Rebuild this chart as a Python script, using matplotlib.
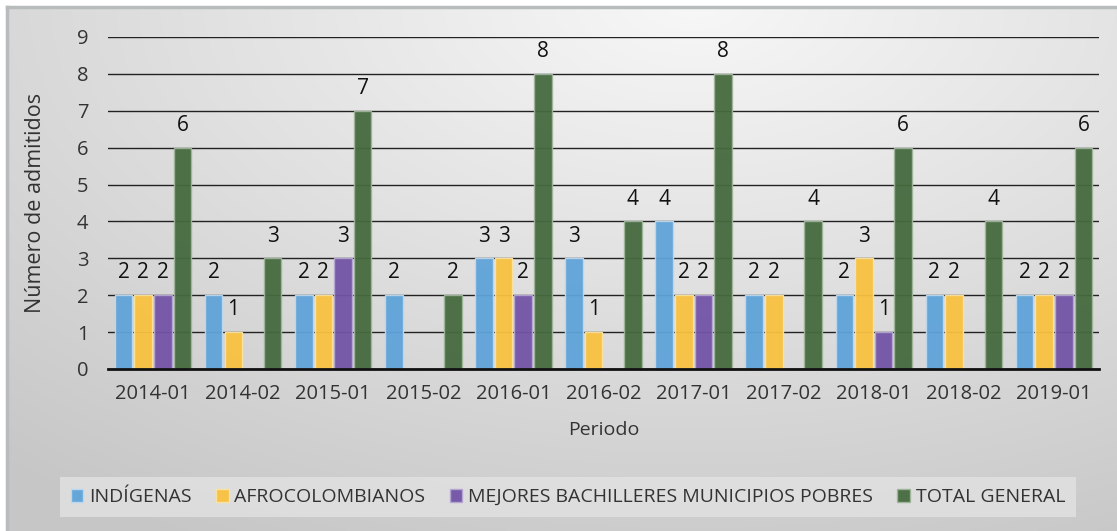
import numpy as np
import matplotlib

matplotlib.use("Agg")
import matplotlib.pyplot as plt
from matplotlib.patches import Rectangle

plt.rcParams["font.family"] = ["Open Sans", "DejaVu Sans"]

periods = ["2014-01", "2014-02", "2015-01", "2015-02", "2016-01", "2016-02",
           "2017-01", "2017-02", "2018-01", "2018-02", "2019-01"]
indigenas = [2, 2, 2, 2, 3, 3, 4, 2, 2, 2, 2]
afro = [2, 1, 2, 0, 3, 1, 2, 2, 3, 2, 2]
mejores = [2, 0, 3, 0, 2, 0, 2, 0, 1, 0, 2]
total = [6, 3, 7, 2, 8, 4, 8, 4, 6, 4, 6]

series_names = ["INDÍGENAS", "AFROCOLOMBIANOS", "MEJORES BACHILLERES MUNICIPIOS POBRES", "TOTAL GENERAL"]
series_values = [indigenas, afro, mejores, total]
colors = ["#5fa3d9", "#f8c13f", "#7354a6", "#466a3f"]
edges = ["#bcd9f0", "#fde3a0", "#b5a6d3", "#9fb59a"]

fig = plt.figure(figsize=(11.17, 5.31), dpi=100)

# gradient background panel
bg = fig.add_axes([0, 0, 1, 1], zorder=-10)
yy, xx = np.mgrid[0:1:200j, 0:1:400j]
d = np.sqrt(((xx - 0.62) / 1.0) ** 2 + ((yy - 0.0) / 1.2) ** 2)
shade = np.clip(0.97 - 0.2 * d, 0.78, 0.97)
bg.imshow(np.dstack([shade, shade, shade]), extent=[0, 1, 0, 1], origin="upper", aspect="auto")
bg.add_patch(Rectangle((0, 0), 7 / 1117, 1, color="white", transform=bg.transAxes))
bg.add_patch(Rectangle((0, 1 - 7 / 531), 1, 7 / 531, color="white", transform=bg.transAxes))
bg.plot([7 / 1117, 7 / 1117], [0, 1 - 7 / 531], color="#b8bcbc", lw=2.5)
bg.plot([7 / 1117, 1], [1 - 7 / 531, 1 - 7 / 531], color="#b8bcbc", lw=2.5)
bg.set_xlim(0, 1)
bg.set_ylim(0, 1)
bg.axis("off")

ax = fig.add_axes([108 / 1117, 1 - 369 / 531, (1099 - 108) / 1117, (369 - 37) / 531])
ax.set_facecolor("none")

x = np.arange(len(periods))
width = 0.195
step = 0.218
for i, (name, vals) in enumerate(zip(series_names, series_values)):
    offs = (i - 1.5) * step
    ax.bar(x + offs, vals, width, color=colors[i], edgecolor=edges[i], linewidth=1,
           label=name, zorder=2, alpha=0.95)
    for xi, v in zip(x, vals):
        if v > 0:
            ax.text(xi + offs, v + 0.32, str(v), ha="center", va="bottom", fontsize=15, color="#111111")

ax.set_ylim(0, 9)
ax.set_xlim(-0.5, len(periods) - 0.5)
ax.set_yticks(range(10))
ax.yaxis.grid(True, color="#222222", linewidth=1, zorder=1)
ax.set_axisbelow(True)
for s in ["top", "right", "left"]:
    ax.spines[s].set_visible(False)
ax.spines["bottom"].set_color("#111111")
ax.spines["bottom"].set_linewidth(2)
ax.tick_params(axis="both", length=0, labelsize=14.5, labelcolor="#333333")
ax.tick_params(axis="x", pad=11)
ax.tick_params(axis="y", pad=14)
ax.set_xticks(x)
ax.set_xticklabels(periods)
ax.set_xlabel("Periodo", fontsize=14, color="#333333", labelpad=12)
ax.set_ylabel("Número de admitidos", fontsize=15.5, color="#333333", labelpad=22)

leg = fig.legend(loc="center", bbox_to_anchor=(568 / 1117, 1 - 497 / 531), ncol=4, fontsize=14,
                 frameon=True, fancybox=False, handlelength=0.65, handleheight=0.65,
                 handletextpad=0.3, columnspacing=1.25, borderpad=0.55)
leg.get_frame().set_facecolor("#e2e2e2")
leg.get_frame().set_edgecolor("none")
leg.get_frame().set_alpha(0.8)
for t in leg.get_texts():
    t.set_color("#333333")

fig.savefig("out.png", dpi=100)
